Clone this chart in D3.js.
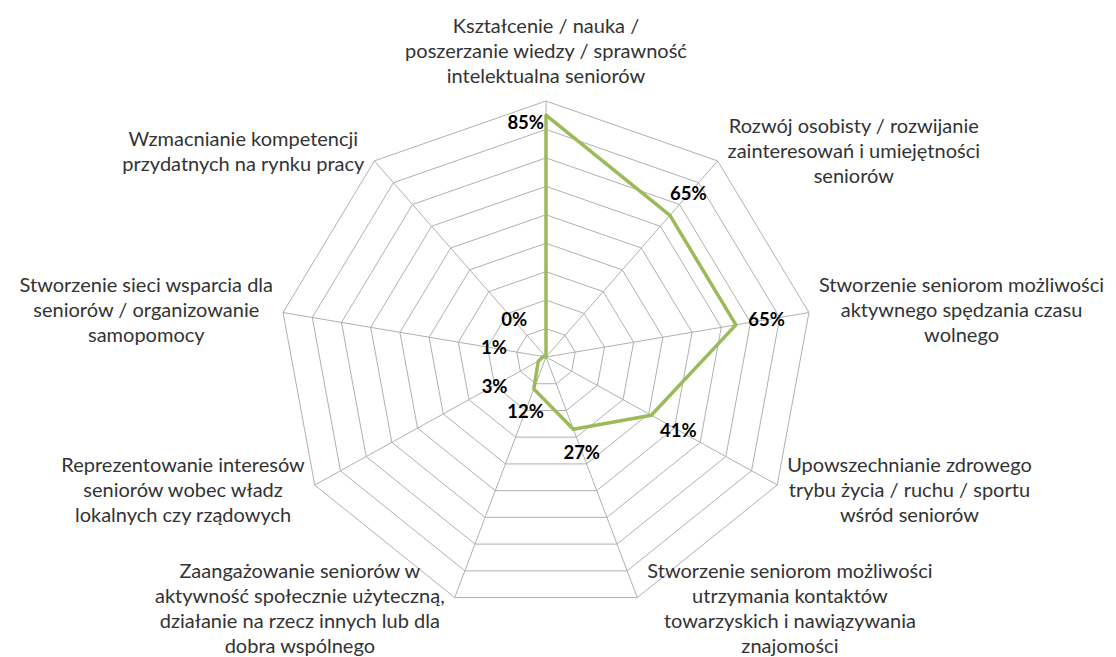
<!DOCTYPE html>
<html>
<head>
<meta charset="utf-8">
<script src="https://cdn.jsdelivr.net/npm/d3@7"></script>
<style>
  body { margin: 0; background: #fff; }
  svg text { font-family: Lato, sans-serif; }
</style>
</head>
<body>
<svg id="chart" width="1116" height="657"></svg>
<script>
// categories clockwise from the top, each split into the lines shown on the chart
var categories = [
  ['Kształcenie / nauka /', 'poszerzanie wiedzy / sprawność', 'intelektualna seniorów'],
  ['Rozwój osobisty / rozwijanie', 'zainteresowań i umiejętności', 'seniorów'],
  ['Stworzenie seniorom możliwości', 'aktywnego spędzania czasu', 'wolnego'],
  ['Upowszechnianie zdrowego', 'trybu życia / ruchu / sportu', 'wśród seniorów'],
  ['Stworzenie seniorom możliwości', 'utrzymania kontaktów', 'towarzyskich i nawiązywania', 'znajomości'],
  ['Zaangażowanie seniorów w', 'aktywność społecznie użyteczną,', 'działanie na rzecz innych lub dla', 'dobra wspólnego'],
  ['Reprezentowanie interesów', 'seniorów wobec władz', 'lokalnych czy rządowych'],
  ['Stworzenie sieci wsparcia dla', 'seniorów / organizowanie', 'samopomocy'],
  ['Wzmacnianie kompetencji', 'przydatnych na rynku pracy']
];

var values = [0.85, 0.65, 0.65, 0.41, 0.27, 0.12, 0.03, 0.01, 0.00];

var ringTicks = [0.1, 0.2, 0.3, 0.4, 0.5, 0.6, 0.7, 0.8, 0.9];

var svg = d3.select('#chart');

var cx = 546, cy = 357;
var rx = d3.scaleLinear().domain([0, 0.9]).range([0, 267]); // picture is a bit wider than tall
var ry = d3.scaleLinear().domain([0, 0.9]).range([0, 256]);
var angle = d3.scaleLinear().domain([0, categories.length]).range([0, 2 * Math.PI]);

function pt(i, v) {
  var a = angle(i);
  return [cx + rx(v) * Math.sin(a), cy - ry(v) * Math.cos(a)];
}

var line = d3.line().curve(d3.curveLinearClosed);

// grid rings
svg.append('g').selectAll('path')
    .data(ringTicks)
  .enter().append('path')
    .attr('d', (t) => line(categories.map((c, i) => pt(i, t))))
    .attr('fill', 'none')
    .attr('stroke', '#b0b0b0')
    .attr('stroke-width', 1);

// spokes
svg.append('g').selectAll('line')
    .data(categories)
  .enter().append('line')
    .attr('x1', cx).attr('y1', cy)
    .attr('x2', (d, i) => pt(i, 0.9)[0])
    .attr('y2', (d, i) => pt(i, 0.9)[1])
    .attr('stroke', '#b0b0b0')
    .attr('stroke-width', 1);

// series
svg.append('path')
    .attr('d', line(values.map((v, i) => pt(i, v))))
    .attr('fill', 'none')
    .attr('stroke', '#9bbb59')
    .attr('stroke-width', 3.5)
    .attr('stroke-linejoin', 'round');

// category labels
var lh = 25;
var catG = svg.append('g').attr('font-size', '20px').attr('fill', '#333');
categories.forEach((lines, i) => {
  var a = angle(i);
  var v = pt(i, 0.9);
  var t = catG.append('text').attr('text-anchor', 'middle');
  t.selectAll('tspan').data(lines).enter().append('tspan').text((d) => d);
  var w = d3.max(t.selectAll('tspan').nodes(), (n) => n.getComputedTextLength());
  var n = lines.length;
  var bx, by;
  if (Math.abs(Math.sin(a)) < 0.1) {
    bx = v[0];
    by = v[1] - 12 - n * lh / 2;
  } else {
    bx = Math.sin(a) > 0 ? v[0] + 10 + w / 2 : v[0] - 10 - w / 2;
    by = v[1] - 12 * Math.cos(a);
  }
  t.selectAll('tspan')
      .attr('x', bx)
      .attr('y', (d, j) => by + (j - (n - 1) / 2) * lh)
      .attr('dy', '0.32em');
});

// value labels
var fmt = d3.format('.0%');
var valG = svg.append('g').attr('font-size', '18.5px').attr('font-weight', 'bold').attr('fill', '#000');
values.forEach((v, i) => {
  var a = angle(i);
  var p = pt(i, v);
  var t = valG.append('text').text(fmt(v));
  var w = t.node().getComputedTextLength(), h = 13;
  if (Math.abs(Math.sin(a)) < 0.1) {
    t.attr('x', p[0] - 2).attr('y', p[1] + 14).attr('text-anchor', 'end');
    return;
  }
  var ux = Math.sin(a), uy = -Math.cos(a);
  var gap = v < 0.05 ? 36 : 12;
  var d = gap + Math.abs(ux) * w / 2 + Math.abs(uy) * h / 2;
  t.attr('x', p[0] + ux * d).attr('y', p[1] + uy * d + h / 2)
   .attr('text-anchor', 'middle');
});
</script>
</body>
</html>
